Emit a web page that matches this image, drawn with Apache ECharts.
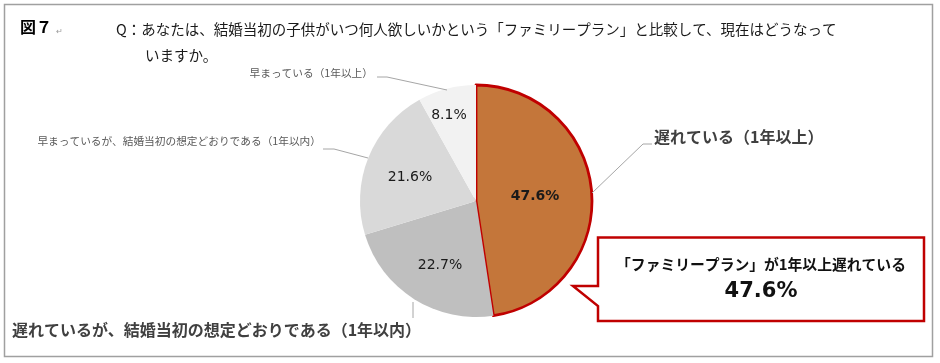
<!DOCTYPE html>
<html>
<head>
<meta charset="utf-8">
<script src="https://cdn.jsdelivr.net/npm/echarts@6/dist/echarts.min.js"></script>
<style>
html,body{margin:0;padding:0;background:#fff;}
#chart{width:940px;height:363px;}
</style>
</head>
<body>
<div id="chart"></div>
<script>
// ---- data ----
const categories = [
  '遅れている（1年以上）',
  '遅れているが、結婚当初の想定どおりである（1年以内）',
  '早まっているが、結婚当初の想定どおりである（1年以内）',
  '早まっている（1年以上）'
];
const values = [47.6, 22.7, 21.6, 8.1];
const titleLine1 = 'Q：あなたは、結婚当初の子供がいつ何人欲しいかという「ファミリープラン」と比較して、現在はどうなって';
const titleLine2 = 'いますか。';
const figLabel = '図７';
const calloutLine1 = '「ファミリープラン」が1年以上遅れている';
const calloutLine2 = '47.6%';

// ---- styles / layout ----
const sliceColors = ['#C4763A', '#BFBFBF', '#D9D9D9', '#F2F2F2'];
const JP = '"Noto Sans CJK JP", sans-serif';
const pctPos = [[535, 196], [440, 265], [410, 177], [449, 115]];
const namePos = [
  {x: 654, y: 137, align: 'left', pts: [[592, 193], [643, 144], [652, 144]]},
  {x: 12, y: 330, align: 'left', pts: [[413, 302], [413, 310], [413, 318]]},
  {x: 321, y: 141, align: 'right', pts: [[323, 149], [334, 149], [368, 158]]},
  {x: 373, y: 73, align: 'right', pts: [[377, 77], [387, 77], [447, 90]]}
];
const nameStyles = [
  {fontSize: 16, fontWeight: 'bold', color: '#404040'},
  {fontSize: 16, fontWeight: 'bold', color: '#404040'},
  {fontSize: 10.7, fontWeight: 'normal', color: '#595959'},
  {fontSize: 10.7, fontWeight: 'normal', color: '#595959'}
];

const chart = echarts.init(document.getElementById('chart'), null, {renderer: 'canvas'});

const pctData = categories.map((c, i) => ({
  name: c,
  value: values[i],
  itemStyle: i === 0
    ? {color: sliceColors[i], borderColor: '#C00000', borderWidth: 2.8}
    : {color: sliceColors[i], borderWidth: 0},
  label: {fontWeight: i === 0 ? 'bold' : 'normal'}
}));

const nameData = categories.map((c, i) => ({
  name: c,
  value: values[i],
  label: Object.assign({fontFamily: JP}, nameStyles[i])
}));

chart.setOption({
  animation: false,
  backgroundColor: '#fff',
  series: [
    {
      type: 'pie',
      center: [476, 201],
      radius: 116,
      startAngle: 90,
      clockwise: true,
      avoidLabelOverlap: false,
      silent: true,
      data: pctData,
      label: {
        show: true,
        position: 'inside',
        formatter: p => p.value.toFixed(1) + '%',
        fontFamily: 'DejaVu Sans, sans-serif',
        fontSize: 14,
        color: '#1a1a1a',
        align: 'center',
        verticalAlign: 'middle'
      },
      labelLine: {show: false},
      labelLayout: p => ({x: pctPos[p.dataIndex][0], y: pctPos[p.dataIndex][1], align: 'center', verticalAlign: 'middle'}),
      z: 2
    },
    {
      type: 'pie',
      center: [476, 201],
      radius: 116,
      startAngle: 90,
      clockwise: true,
      avoidLabelOverlap: false,
      silent: true,
      data: nameData,
      itemStyle: {color: 'rgba(0,0,0,0)', borderWidth: 0},
      label: {show: true, position: 'outside', verticalAlign: 'middle'},
      labelLine: {show: true, lineStyle: {color: '#A6A6A6', width: 1}},
      labelLayout: p => {
        const n = namePos[p.dataIndex];
        return {x: n.x, y: n.y, align: n.align, verticalAlign: 'middle', labelLinePoints: n.pts};
      },
      z: 3
    }
  ],
  graphic: [
    {type: 'rect', shape: {x: 4.5, y: 4.5, width: 928, height: 352}, style: {fill: 'none', stroke: '#A0A0A0', lineWidth: 1.5}, z: -10, silent: true},
    {type: 'text', left: 20, top: 19, style: {text: figLabel, font: 'bold 16px ' + JP, fill: '#000'}},
    {type: 'text', left: 56, top: 27, style: {text: '↵', font: '8px ' + JP, fill: '#999'}},
    {type: 'text', left: 116, top: 22, style: {text: titleLine1, font: '14.5px ' + JP, fill: '#1a1a1a'}},
    {type: 'text', left: 145, top: 48, style: {text: titleLine2, font: '14.5px ' + JP, fill: '#1a1a1a'}},
    {type: 'polygon', shape: {points: [[598, 237.5], [924, 237.5], [924, 321], [598, 321], [598, 306], [573, 286], [598, 286]]},
     style: {fill: '#fff', stroke: '#C00000', lineWidth: 2.5}, z: 5},
    {type: 'text', x: 761, y: 264, style: {text: calloutLine1, font: 'bold 14.8px ' + JP, fill: '#111', align: 'center', verticalAlign: 'middle'}, z: 6},
    {type: 'text', x: 761, y: 292, style: {text: calloutLine2, font: 'bold 21px DejaVu Sans, sans-serif', fill: '#111', align: 'center', verticalAlign: 'middle'}, z: 6}
  ]
});
</script>
</body>
</html>
